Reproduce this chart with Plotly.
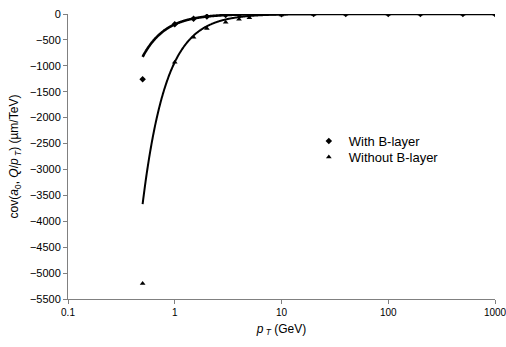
import numpy as np
import plotly.graph_objects as go

# Transverse momentum points (GeV)
pt = [0.5, 1, 1.5, 2, 3, 4, 5, 10, 20, 40, 100, 200, 500, 1000]

# cov(a0, Q/pT) in um/TeV
cov_with_blayer = [-1260, -200, -90, -50, -20, -12, -8, -3, -1, 0, 0, 0, 0, 0]
cov_without_blayer = [-5200, -930, -450, -280, -160, -100, -70, -20, -5, -2, -1, 0, 0, 0]

# Power-law trendline coefficients: y = -A * pT^(-B)
trend_with = (200.0, 2.05)
trend_without = (930.0, 1.98)

y_ticks = list(range(-5500, 1, 500))
x_ticks = [0.1, 1, 10, 100, 1000]
x_tick_labels = ["0.1", "1", "10", "100", "1000"]

FONT = "Liberation Sans, Arial, sans-serif"

pt_fine = np.logspace(np.log10(pt[0]), np.log10(pt[-1]), 600)


def trend(coef):
    a, b = coef
    return -a * pt_fine ** (-b)


fig = go.Figure()

fig.add_trace(go.Scatter(
    x=pt_fine, y=trend(trend_with), mode="lines",
    line=dict(color="black", width=2.6, shape="spline"), showlegend=False, hoverinfo="skip"))
fig.add_trace(go.Scatter(
    x=pt_fine, y=trend(trend_without), mode="lines",
    line=dict(color="black", width=2, shape="spline"), showlegend=False, hoverinfo="skip"))

fig.add_trace(go.Scatter(
    x=pt, y=cov_with_blayer, mode="markers", name="With B-layer",
    marker=dict(symbol="diamond", size=5, color="black"), legend="legend"))
fig.add_trace(go.Scatter(
    x=pt, y=cov_without_blayer, mode="markers", name="Without B-layer",
    marker=dict(symbol="triangle-up", size=5, color="black"), legend="legend2"))

axis_color = "#808080"
legend_style = dict(
    xanchor="left", yanchor="middle",
    bgcolor="rgba(0,0,0,0)", borderwidth=0,
    font=dict(family=FONT, size=13, color="black"),
    itemwidth=30,
)

fig.update_layout(
    width=506, height=347,
    margin=dict(l=68, r=11, t=14, b=48),
    paper_bgcolor="white", plot_bgcolor="white",
    font=dict(family=FONT, size=11, color="black"),
    legend=dict(x=0.564, y=0.554, **legend_style),
    legend2=dict(x=0.564, y=0.498, **legend_style),
    xaxis=dict(
        type="log", range=[-1, 3],
        tickvals=x_ticks, ticktext=x_tick_labels,
        showgrid=False, zeroline=False,
        showline=True, linecolor=axis_color, linewidth=1,
        ticks="outside", ticklen=4, tickcolor=axis_color,
        ticklabeloverflow="allow",
        tickfont=dict(family=FONT, size=10, color="black"),
        title=dict(text="<i>p</i><sub> <i>T</i></sub> (GeV)",
                   font=dict(family=FONT, size=12, color="black"),
                   standoff=7),
        automargin=False,
    ),
    yaxis=dict(
        range=[-5500, 0],
        tickvals=y_ticks,
        showgrid=False, zeroline=False,
        showline=True, linecolor=axis_color, linewidth=1,
        ticks="outside", ticklen=4, tickcolor=axis_color,
        tickfont=dict(family=FONT, size=11, color="black"),
        title=dict(text="cov(<i>a</i><sub>0</sub>, <i>Q</i>/<i>p</i><sub> <i>T</i></sub>) (µm/TeV)",
                   font=dict(family=FONT, size=12, color="black"),
                   standoff=8),
        automargin=False,
    ),
)

fig.write_html("out.html")
